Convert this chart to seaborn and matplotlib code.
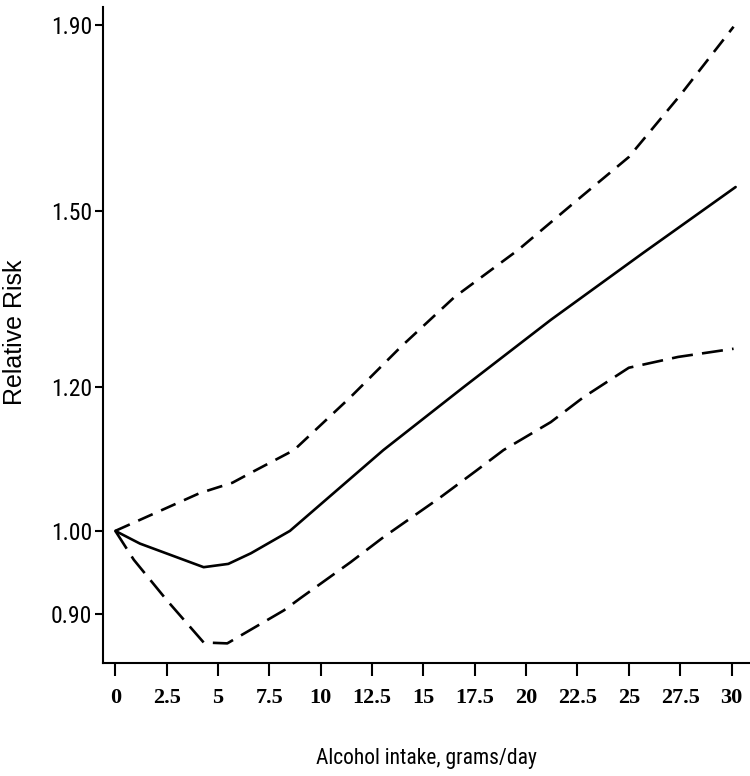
import os
import matplotlib
matplotlib.use("Agg")
import matplotlib.pyplot as plt
import matplotlib.ticker as mticker
from matplotlib import font_manager
import seaborn as sns
import pandas as pd

# ---- data ----
rr_x = [0, 1.2, 4.3, 5.5, 6.6, 8.5, 13.05, 16.95, 21.2, 25.7, 30.2]
rr_y = [1.00, 0.984, 0.955, 0.959, 0.972, 1.00, 1.108, 1.200, 1.307, 1.423, 1.547]

upper_x = [0, 4.1, 5.7, 6.7, 8.7, 11.45, 13.9, 16.5, 19.6, 22.5, 25.0, 27.5, 30.1]
upper_y = [1.00, 1.049, 1.063, 1.078, 1.108, 1.185, 1.263, 1.345, 1.428, 1.522, 1.607, 1.738, 1.896]

lower_x = [0, 0.9, 2.5, 4.3, 5.45, 8.2, 9.0, 11.45, 13.05, 15.8, 17.6, 18.9, 21.2, 22.8, 25.0, 27.4, 30.1]
lower_y = [1.00, 0.964, 0.916, 0.868, 0.867, 0.904, 0.918, 0.961, 0.992, 1.043, 1.080, 1.108, 1.148, 1.185, 1.230, 1.247, 1.260]

x_ticks = [0, 2.5, 5, 7.5, 10, 12.5, 15, 17.5, 20, 22.5, 25, 27.5, 30]
x_tick_labels = ["0", "2.5", "5", "7.5", "10", "12.5", "15", "17.5", "20", "22.5", "25", "27.5", "30"]
y_ticks = [0.90, 1.00, 1.20, 1.50, 1.90]
y_tick_labels = ["0.90", "1.00", "1.20", "1.50", "1.90"]

x_label = "Alcohol intake, grams/day"
y_label = "Relative Risk"

sns.set_theme(style="ticks")

# ---- fonts: prefer a narrow sans if one is installed ----
_files = font_manager.findSystemFonts()
_by_base = {os.path.basename(f).lower(): f for f in _files}
narrow_path = None
for cand in ["liberationsansnarrow-regular.ttf", "arialn.ttf", "robotocondensed-regular.ttf",
             "notosans-condensed.ttf", "opensans-condensed.ttf", "dejavusanscondensed.ttf"]:
    if cand in _by_base:
        narrow_path = _by_base[cand]
        break

if narrow_path:
    ytick_fp = font_manager.FontProperties(fname=narrow_path, size=17)
    xlabel_fp = font_manager.FontProperties(fname=narrow_path, size=15.5)
else:
    ytick_fp = font_manager.FontProperties(family=["Liberation Sans", "DejaVu Sans"], size=15.5)
    xlabel_fp = font_manager.FontProperties(family=["Liberation Sans", "DejaVu Sans"], size=14)

fig = plt.figure(figsize=(7.5, 7.76), dpi=100)
ax = fig.add_axes([103 / 750, (776 - 662.7) / 776, 647 / 750, (662.7 - 7) / 776])

df_rr = pd.DataFrame({"x": rr_x, "y": rr_y})
df_up = pd.DataFrame({"x": upper_x, "y": upper_y})
df_lo = pd.DataFrame({"x": lower_x, "y": lower_y})

sns.lineplot(data=df_rr, x="x", y="y", ax=ax, color="black", lw=1.9, estimator=None, sort=False)
sns.lineplot(data=df_up, x="x", y="y", ax=ax, color="black", lw=1.9, estimator=None, sort=False)
sns.lineplot(data=df_lo, x="x", y="y", ax=ax, color="black", lw=1.9, estimator=None, sort=False)
ax.lines[1].set_dashes([6, 3.5])
ax.lines[2].set_dashes([8, 3.5])

ax.set_yscale("log")
ax.set_xlim(-0.6, 30.9)
ax.set_ylim(0.846, 1.944)

ax.yaxis.set_minor_locator(mticker.NullLocator())
ax.set_yticks(y_ticks)
ax.set_yticklabels(y_tick_labels)
for t in ax.get_yticklabels():
    t.set_fontproperties(ytick_fp)
ax.set_xticks(x_ticks)
ax.set_xticklabels(x_tick_labels, fontfamily=["Liberation Serif", "DejaVu Serif"],
                   fontweight="bold", fontsize=16)

ax.tick_params(axis="y", length=6, width=1.5, pad=2, colors="black")
ax.tick_params(axis="x", length=9, width=1.5, pad=9, colors="black")

for side in ["top", "right"]:
    ax.spines[side].set_visible(False)
for side in ["left", "bottom"]:
    ax.spines[side].set_linewidth(1.5)
    ax.spines[side].set_color("black")

ax.set_xlabel(x_label, fontproperties=xlabel_fp, color="black")
ax.set_ylabel(y_label, fontfamily=["Liberation Sans", "DejaVu Sans"], fontsize=18, color="black")
ax.xaxis.set_label_coords(0.5, (662.7 - 748) / 655.7)
ax.yaxis.set_label_coords((27.5 - 103) / 647, (662.7 - 332.5) / 655.7)

fig.savefig("out.png", dpi=100)
